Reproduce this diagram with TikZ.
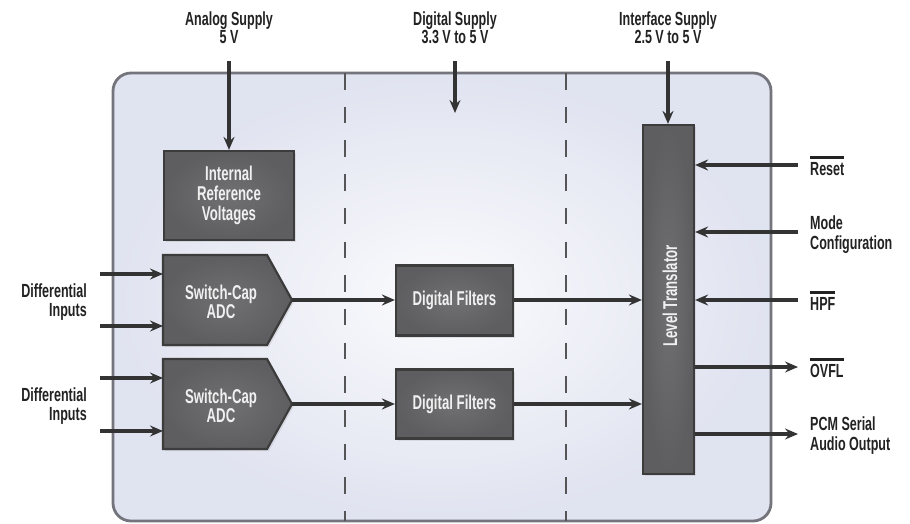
\documentclass[tikz,border=0pt]{standalone}
\usepackage{fontspec}
\setmainfont{Liberation Sans}[FakeStretch=0.66]
\usetikzlibrary{arrows.meta,shadows}
\definecolor{arrowc}{HTML}{333333}
\definecolor{bordc}{HTML}{74747C}
\definecolor{boxin}{HTML}{707072}
\definecolor{boxout}{HTML}{5E5E60}
\definecolor{boxline}{HTML}{3C3C3C}
\definecolor{bgin}{HTML}{FBFBFD}
\definecolor{bgout}{HTML}{E0E3F0}
\definecolor{dashc}{HTML}{555558}
\definecolor{labc}{HTML}{222222}
\newcommand{\barred}[1]{\setbox0\hbox{#1}\leavevmode\rlap{\raisebox{\dimexpr\ht0+4pt\relax}{\rule{\wd0}{2.8pt}}}\box0}
\tikzset{
  arr/.style={draw=arrowc, line width=3.1pt, -{Stealth[length=13pt,width=11pt,inset=4.5pt]}},
  lab/.style={text=labc, font=\bfseries\fontsize{19}{17}\selectfont, inner sep=0pt, align=center},
  rlab/.style={text=labc, font=\bfseries\fontsize{19}{20}\selectfont, inner sep=0pt, align=left, anchor=west},
  llab/.style={text=labc, font=\bfseries\fontsize{19}{19}\selectfont, inner sep=0pt, align=right, anchor=east},
  blk/.style={draw=boxline, line width=2.2pt, inner color=boxin, outer color=boxout,
    drop shadow={opacity=0.18, shadow xshift=2pt, shadow yshift=-2pt}},
  box/.style={blk, rectangle, inner sep=0pt, text=white!94!black, align=center,
    font=\bfseries\fontsize{20}{20}\selectfont},
  wtxt/.style={text=white!94!black, align=center, inner sep=0pt, font=\bfseries\fontsize{20}{19}\selectfont},
  sep/.style={draw=dashc, line width=1.3pt, dash pattern=on 16.5pt off 17.2pt}
}
\begin{document}
\begin{tikzpicture}[x=1pt,y=-1pt]
\useasboundingbox (0,0) rectangle (910,523);
% background board
\path[inner color=bgin, outer color=bgout, rounded corners=18pt] (113,73) rectangle (771,521);
\draw[draw=bordc, line width=2.8pt, rounded corners=18pt] (113,73) rectangle (771,521);
% separators
\draw[sep] (345,73) -- (345,521);
\draw[sep] (566,73) -- (566,521);
% blocks
\node[box, minimum width=130pt, minimum height=89pt] (iref) at (229,195.5) {Internal\\Reference\\Voltages};
\node[box, minimum width=117pt, minimum height=70pt] (df1) at (454.5,300.5) {Digital Filters};
\node[box, minimum width=117pt, minimum height=69pt] (df2) at (454.5,404) {Digital Filters};
\node[box, minimum width=51pt, minimum height=349pt] (lt) at (668.5,299.5) {};
\node[wtxt, rotate=90] (lttxt) at (670,296) {Level Translator};
% ADCs
\path[blk] (163,255) -- (267,255) -- (292,300) -- (267,345) -- (163,345) -- cycle;
\node[wtxt] (adc1) at (221,302) {Switch-Cap\\ADC};
\coordinate (adc1w) at (163,300);
\coordinate (adc1tip) at (292,300);
\path[blk] (163,359) -- (267,359) -- (292,404) -- (267,449) -- (163,449) -- cycle;
\node[wtxt] (adc2) at (221,406) {Switch-Cap\\ADC};
\coordinate (adc2w) at (163,404);
\coordinate (adc2tip) at (292,404);
% supply labels and arrows
\node[lab] (asl) at (229,28) {Analog Supply\\5 V};
\node[lab] (dsl) at (455,28) {Digital Supply\\3.3 V to 5 V};
\node[lab] (isl) at (668,28) {Interface Supply\\2.5 V to 5 V};
\coordinate (asup) at (229,61);
\coordinate (dsup) at (455,61);
\coordinate (dsupend) at (455,113);
\coordinate (isup) at (668,61);
\draw[arr] (asup) -- (asup |- iref.north);
\draw[arr] (dsup) -- (dsupend);
\draw[arr] (isup) -- (isup |- lt.north);
% differential inputs
\node[llab] (di1) at (87,302.5) {Differential\\Inputs};
\node[llab] (di2) at (87,406.5) {Differential\\Inputs};
\coordinate (i1a) at (100,274);
\coordinate (i1b) at (100,326);
\coordinate (i2a) at (100,378);
\coordinate (i2b) at (100,431);
\draw[arr] (i1a) -- (i1a -| adc1w);
\draw[arr] (i1b) -- (i1b -| adc1w);
\draw[arr] (i2a) -- (i2a -| adc2w);
\draw[arr] (i2b) -- (i2b -| adc2w);
% signal path
\draw[arr] (adc1tip) -- (adc1tip -| df1.west);
\draw[arr] (adc2tip) -- (adc2tip -| df2.west);
\draw[arr] (df1.east |- adc1tip) -- (adc1tip -| lt.west);
\draw[arr] (df2.east |- adc2tip) -- (adc2tip -| lt.west);
% right side signals
\coordinate (rst) at (798,165);
\coordinate (mode) at (798,232);
\coordinate (hpf) at (798,300);
\coordinate (ovfl) at (798,367);
\coordinate (pcm) at (798,434);
\draw[arr] (rst) -- (rst -| lt.east);
\draw[arr] (mode) -- (mode -| lt.east);
\draw[arr] (hpf) -- (hpf -| lt.east);
\draw[arr] (ovfl -| lt.east) -- (ovfl);
\draw[arr] (pcm -| lt.east) -- (pcm);
\node[rlab] (rstl) at (810,166) {\barred{Reset}};
\node[rlab] (model) at (810,235) {Mode\\Configuration};
\node[rlab] (hpfl) at (810,301) {\barred{HPF}};
\node[rlab] (ovfll) at (810,368) {\barred{OVFL}};
\node[rlab] (pcml) at (810,436) {PCM Serial\\Audio Output};
\end{tikzpicture}
\end{document}
